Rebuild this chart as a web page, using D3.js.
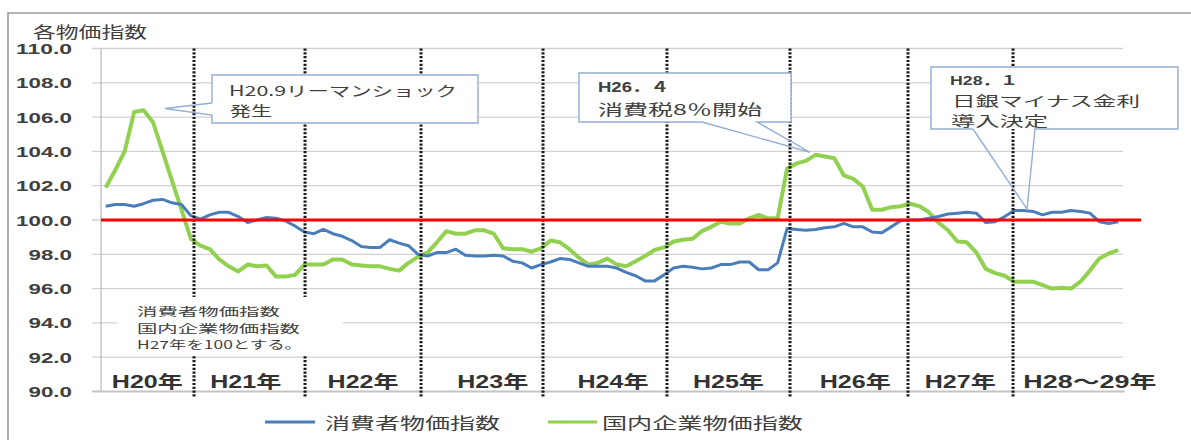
<!DOCTYPE html>
<html><head><meta charset="utf-8">
<script src="https://cdn.jsdelivr.net/npm/d3@7/dist/d3.min.js"></script>
<style>body{margin:0;background:#fff}svg{display:block}</style>
</head><body>
<svg id="chart" width="1191" height="440"></svg>
<script>
// ---- data ----
// months: H20.4 ... H29.3 (108 monthly points)
const months = [];
for (let k = 0; k < 108; k++) { const m = (3 + k) % 12 + 1; const yr = 20 + Math.floor((3 + k) / 12); months.push("H" + yr + "." + m); }

const cpi = [100.8,100.9,100.9,100.8,100.95,101.15,101.2,101.0,100.9,100.25,
 100.05,100.3,100.45,100.45,100.2,99.85,100.0,100.15,100.1,99.95,
 99.65,99.3,99.2,99.45,99.2,99.05,98.8,98.45,98.4,98.4,
 98.85,98.65,98.5,98.0,97.9,98.1,98.1,98.3,97.95,97.9,
 97.9,97.95,97.9,97.6,97.5,97.2,97.4,97.55,97.75,97.7,
 97.5,97.3,97.3,97.3,97.2,96.95,96.75,96.45,96.45,96.8,
 97.2,97.3,97.25,97.15,97.2,97.4,97.4,97.55,97.55,97.1,
 97.1,97.5,99.5,99.45,99.4,99.45,99.55,99.6,99.8,99.6,
 99.6,99.3,99.25,99.6,99.95,100.0,100.0,100.1,100.2,100.35,
 100.4,100.45,100.4,99.85,99.9,100.2,100.55,100.55,100.5,100.3,
 100.45,100.45,100.55,100.5,100.4,99.9,99.8,99.9];

const cgpi = [101.9,102.9,104.0,106.3,106.4,105.7,104.0,102.3,100.6,98.9,
 98.5,98.3,97.7,97.3,97.0,97.4,97.3,97.35,96.7,96.7,
 96.8,97.4,97.4,97.4,97.7,97.7,97.4,97.35,97.3,97.3,
 97.15,97.05,97.5,97.85,98.1,98.7,99.35,99.2,99.2,99.4,
 99.4,99.2,98.35,98.3,98.3,98.15,98.35,98.8,98.7,98.3,
 97.8,97.4,97.5,97.75,97.4,97.3,97.6,97.9,98.25,98.4,
 98.75,98.85,98.9,99.35,99.6,99.9,99.8,99.8,100.1,100.3,
 100.1,100.1,103.0,103.3,103.45,103.8,103.7,103.6,102.6,102.4,
 101.95,100.6,100.6,100.75,100.8,100.95,100.8,100.45,99.85,99.4,
 98.75,98.7,98.1,97.15,96.9,96.75,96.4,96.4,96.4,96.2,
 96.0,96.05,96.0,96.4,97.05,97.75,98.05,98.25];

const yTicks = [90,92,94,96,98,100,102,104,106,108,110];
const yearLabels = ["H20年","H21年","H22年","H23年","H24年","H25年","H26年","H27年","H28～29年"];
const yearCenters = [4.4,14.8,27.2,40.9,53.6,65.8,79.2,90.3,104.0];   // month-index positions
const separators = [9.33,21.06,33.32,46.21,59.31,72.31,84.78,95.88];  // month-index positions
const baseValue = 100;
const seriesNames = ["消費者物価指数","国内企業物価指数"];
const noteLines = ["消費者物価指数","国内企業物価指数","H27年を100とする。"];
const events = [
  {idx: 6.25, val: 106.5, lines: ["H20.9リーマンショック","発生"]},
  {idx: 74.42, val: 103.95, lines: ["H26．４","消費税8％開始"]},
  {idx: 97.36, val: 100.64, lines: ["H28．１","日銀マイナス金利","導入決定"]}
];

// ---- drawing ----
const svg = d3.select("#chart");
const L = 101, R = 1123, T = 48.5, B = 391.5;
const x = d3.scaleLinear().domain([-0.5, months.length - 0.5]).range([L, R]);
const y = d3.scaleLinear().domain([90, 110]).range([B, T]);
const txt = "#404040";
const jp = "'Noto Sans CJK JP','Noto Sans',sans-serif";
const lat = "'Liberation Sans','Noto Sans CJK JP',sans-serif";

function fit(sel, w) { return sel.attr("textLength", w).attr("lengthAdjust", "spacingAndGlyphs"); }

function block(lines) {
  lines.forEach(l => {
    fit(svg.append("text").attr("fill", txt).attr("dominant-baseline", "central")
      .attr("x", l.x).attr("y", l.y)
      .attr("font-family", l.lat ? lat : jp).attr("font-weight", l.bold ? "bold" : "normal")
      .attr("font-size", l.fs).text(l.t), l.w);
  });
}

// outer frame
svg.append("path").attr("d", "M8,440 V13 H1191").attr("fill", "none").attr("stroke", "#9a9a9a").attr("stroke-width", 1.6);

// title
fit(svg.append("text").attr("x", 33).attr("y", 31).attr("dominant-baseline", "central")
  .attr("font-family", jp).attr("font-size", 15.5).attr("fill", txt).text("各物価指数"), 114);

// gridlines
svg.append("g").selectAll("line").data(yTicks.filter(v => v > 90)).join("line")
  .attr("x1", L - 9).attr("x2", R).attr("y1", d => y(d)).attr("y2", d => y(d))
  .attr("stroke", "#d2d2d2").attr("stroke-width", 1.3);
// axes
svg.append("line").attr("x1", L).attr("x2", L).attr("y1", y(110)).attr("y2", y(90)).attr("stroke", "#bdbdbd").attr("stroke-width", 1.3);
svg.append("line").attr("x1", L - 9).attr("x2", R + 2).attr("y1", y(90)).attr("y2", y(90)).attr("stroke", "#c4c4c4").attr("stroke-width", 2.2);

// y labels
svg.append("g").selectAll("text").data(yTicks).join("text")
  .each(function(d) {
    const s = d.toFixed(1); const w = (s.length - 1) * 12.5 + 6;
    fit(d3.select(this).attr("x", 72 - w).attr("y", y(d)).attr("dominant-baseline", "central")
      .attr("font-family", lat).attr("font-weight", "bold").attr("font-size", 15).attr("fill", txt).text(s), w);
  });

// year labels
svg.append("g").selectAll("text").data(yearLabels).join("text")
  .each(function(d, i) {
    const w = d.length > 4 ? 133 : 71;
    fit(d3.select(this).attr("x", x(yearCenters[i]) - w / 2).attr("y", 382).attr("dominant-baseline", "central")
      .attr("font-family", lat).attr("font-weight", "bold").attr("font-size", 17.5).attr("fill", "#333").text(d), w);
  });

// series lines
const line = d3.line().x((d, i) => x(i)).y(d => y(d));
svg.append("path").datum(cgpi).attr("d", line).attr("fill", "none").attr("stroke", "#92d050").attr("stroke-width", 4).attr("stroke-linejoin", "round");
svg.append("path").datum(cpi).attr("d", line).attr("fill", "none").attr("stroke", "#4a7ebb").attr("stroke-width", 3).attr("stroke-linejoin", "round");

// year separators
svg.append("g").selectAll("line").data(separators).join("line")
  .attr("x1", d => x(d)).attr("x2", d => x(d)).attr("y1", y(110)).attr("y2", 397)
  .attr("stroke", "#1a1a1a").attr("stroke-width", 3).attr("stroke-dasharray", "2.2,1.6");

// base line 100
svg.append("line").attr("x1", L).attr("x2", 1141).attr("y1", y(baseValue)).attr("y2", y(baseValue))
  .attr("stroke", "#ff0000").attr("stroke-width", 3);

// note box
svg.append("rect").attr("x", 117).attr("y", 297).attr("width", 226).attr("height", 59).attr("fill", "#fff");
const noteW = [143, 163, 165];
block(noteLines.map((t, i) => ({t, x: 137, y: 311 + i * 16.5, w: noteW[i], fs: 11.3})));

// callouts
const stroke = "#94afd3";
function callout(box, base, tip, lines) {
  svg.append("rect").attr("x", box[0]).attr("y", box[1]).attr("width", box[2] - box[0]).attr("height", box[3] - box[1]).attr("fill", "#fff");
  let d;
  if (base.side === "left") {
    d = `M${box[0]},${base.a} V${box[1]} H${box[2]} V${box[3]} H${box[0]} V${base.b} L${tip[0]},${tip[1]} L${box[0]},${base.a}`;
  } else {
    d = `M${base.a},${box[3]} H${box[0]} V${box[1]} H${box[2]} V${box[3]} H${base.b} L${tip[0]},${tip[1]} L${base.a},${box[3]}`;
  }
  svg.append("path").attr("d", d).attr("fill", "none").attr("stroke", stroke).attr("stroke-width", 1.4);
  block(lines);
}
const tip = e => [x(e.idx), y(e.val)];
callout([212, 75, 478, 123], {side: "left", a: 103, b: 115}, tip(events[0]), [
  {t: events[0].lines[0], x: 229, y: 89.5, w: 228, fs: 14},
  {t: events[0].lines[1], x: 230, y: 110, w: 42, fs: 14}
]);
callout([579, 73, 791, 122], {side: "bottom", a: 702, b: 757}, tip(events[1]), [
  {t: events[1].lines[0], x: 598, y: 87, w: 71, fs: 14, bold: true, lat: true},
  {t: events[1].lines[1], x: 598, y: 108, w: 164, fs: 14.3}
]);
callout([931, 67, 1178, 129], {side: "bottom", a: 973, b: 1035}, tip(events[2]), [
  {t: events[2].lines[0], x: 950, y: 80, w: 68, fs: 13, bold: true, lat: true},
  {t: events[2].lines[1], x: 952, y: 100, w: 188, fs: 13.6},
  {t: events[2].lines[2], x: 951, y: 120, w: 97, fs: 13.6}
]);

// legend
const legend = [{c: "#4a7ebb", x1: 265, x2: 315, tx: 325, w: 175}, {c: "#92d050", x1: 548, x2: 597, tx: 602, w: 201}];
legend.forEach((g, i) => {
  svg.append("line").attr("x1", g.x1).attr("x2", g.x2).attr("y1", 422).attr("y2", 422).attr("stroke", g.c).attr("stroke-width", 3);
  fit(svg.append("text").attr("x", g.tx).attr("y", 422).attr("dominant-baseline", "central")
    .attr("font-family", jp).attr("font-size", 16).attr("fill", txt).text(seriesNames[i]), g.w);
});
</script>
</body></html>
